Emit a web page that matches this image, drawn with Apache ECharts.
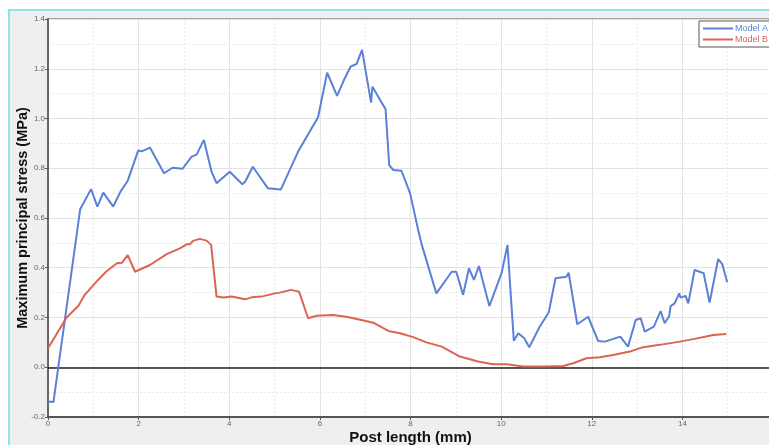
<!DOCTYPE html>
<html><head><meta charset="utf-8">
<script src="https://cdn.jsdelivr.net/npm/echarts@6/dist/echarts.min.js"></script>
<style>html,body{margin:0;padding:0;background:#fff}#c{width:769px;height:445px}</style>
</head><body><div id="c"></div>
<script>
const seriesNames = ['Model A', 'Model B'];
const xTicks = [0, 2, 4, 6, 8, 10, 12, 14, 16];
const yTicks = [-0.2, 0, 0.2, 0.4, 0.6, 0.8, 1.0, 1.2, 1.4];
const modelA_x = [0,0.12,0.71,0.95,1.09,1.22,1.44,1.60,1.76,1.99,2.07,2.25,2.40,2.56,2.75,2.97,3.17,3.28,3.44,3.61,3.72,4.01,4.29,4.35,4.52,4.85,5.14,5.52,5.96,6.16,6.38,6.55,6.68,6.81,6.93,7.13,7.16,7.45,7.53,7.62,7.80,7.99,8.17,8.24,8.57,8.91,9.01,9.16,9.29,9.40,9.51,9.74,10.01,10.14,10.28,10.38,10.51,10.62,10.85,11.05,11.2,11.24,11.44,11.49,11.68,11.92,12.14,12.29,12.63,12.80,12.97,13.08,13.17,13.37,13.52,13.61,13.71,13.74,13.83,13.93,13.96,14.07,14.13,14.27,14.47,14.6,14.79,14.88,14.99];
const modelA_y = [-0.138,-0.14,0.635,0.716,0.646,0.702,0.646,0.706,0.75,0.871,0.868,0.883,0.833,0.78,0.802,0.798,0.847,0.855,0.914,0.786,0.74,0.786,0.736,0.746,0.806,0.72,0.715,0.867,1.005,1.184,1.091,1.162,1.209,1.219,1.276,1.064,1.128,1.037,0.813,0.793,0.79,0.70,0.552,0.498,0.297,0.384,0.384,0.291,0.398,0.351,0.407,0.246,0.378,0.492,0.107,0.137,0.117,0.08,0.163,0.22,0.358,0.364,0.364,0.38,0.173,0.203,0.106,0.103,0.123,0.083,0.19,0.197,0.143,0.163,0.226,0.177,0.206,0.246,0.257,0.297,0.28,0.287,0.257,0.391,0.378,0.26,0.435,0.415,0.342];
const modelB_x = [0,0.22,0.41,0.67,0.81,1.07,1.28,1.52,1.63,1.76,1.92,2.25,2.62,2.91,3.06,3.13,3.2,3.35,3.5,3.6,3.72,3.87,4.05,4.35,4.49,4.71,5.01,5.12,5.36,5.54,5.74,5.93,6.29,6.58,6.84,7.18,7.51,7.77,8.06,8.35,8.69,9.09,9.49,9.82,10.12,10.49,10.93,11.37,11.59,11.88,12.18,12.47,12.84,13.1,13.5,13.94,14.24,14.68,14.97];
const modelB_y = [0.076,0.143,0.2,0.246,0.291,0.344,0.384,0.418,0.42,0.451,0.384,0.411,0.455,0.478,0.494,0.494,0.508,0.516,0.509,0.492,0.284,0.28,0.284,0.273,0.281,0.284,0.297,0.30,0.311,0.304,0.197,0.207,0.21,0.203,0.193,0.179,0.146,0.137,0.121,0.10,0.083,0.043,0.023,0.012,0.012,0.003,0.003,0.005,0.016,0.036,0.04,0.049,0.063,0.079,0.09,0.103,0.113,0.13,0.134];
const xTitle = 'Post length (mm)';
const yTitle = 'Maximum principal stress (MPa)';

const colA = '#5b80d8', colB = '#dc6454';
const zip = (xs, ys) => xs.map((x, i) => [x, ys[i]]);

const chart = echarts.init(document.getElementById('c'), null, {renderer: 'canvas'});
chart.setOption({
  animation: false,
  backgroundColor: '#ffffff',
  graphic: [{
    type: 'rect', z: -10, silent: true,
    shape: {x: 9, y: 10, width: 780, height: 460},
    style: {fill: '#efefef', stroke: '#8fe6e6', lineWidth: 2}
  }],
  grid: {left: 48, top: 19, right: -4, bottom: 28, outerBoundsMode: 'none', containLabel: false,
    show: true, backgroundColor: '#ffffff', borderColor: '#555', borderWidth: 1},
  legend: {
    orient: 'vertical', left: 699, top: 21, padding: [3, 4, 3, 4], itemGap: 2,
    itemWidth: 30, itemHeight: 2, icon: 'rect',
    backgroundColor: '#fff', borderColor: '#555', borderWidth: 1,
    textStyle: {fontSize: 9, fontFamily: 'Liberation Sans, Arial, sans-serif', padding: [0, 0, 0, -3]},
    data: [
      {name: seriesNames[0], textStyle: {color: colA}},
      {name: seriesNames[1], textStyle: {color: colB}}
    ]
  },
  xAxis: {
    type: 'value', min: xTicks[0], max: xTicks[xTicks.length - 1], interval: 2,
    name: xTitle, nameLocation: 'middle', nameGap: 13, nameMoveOverlap: false,
    nameTextStyle: {fontSize: 15, fontWeight: 'bold', color: '#111', fontFamily: 'Liberation Sans, Arial, sans-serif'},
    axisLine: {show: true, onZero: false, lineStyle: {color: '#555', width: 2}},
    axisTick: {show: true, length: 3, lineStyle: {color: '#555'}},
    axisLabel: {fontSize: 8, color: '#666', margin: 3, fontFamily: 'Liberation Sans, Arial, sans-serif'},
    splitLine: {show: true, lineStyle: {color: '#e2e2e2', width: 1}},
    minorTick: {show: false, splitNumber: 2},
    minorSplitLine: {show: true, lineStyle: {color: '#e9e9e9', type: [2, 2]}}
  },
  yAxis: {
    type: 'value', min: yTicks[0], max: yTicks[yTicks.length - 1], interval: 0.2,
    name: yTitle, nameLocation: 'middle', nameGap: 18, nameRotate: 90, nameMoveOverlap: false,
    nameTextStyle: {fontSize: 14.5, fontWeight: 'bold', color: '#111', fontFamily: 'Liberation Sans, Arial, sans-serif'},
    axisLine: {show: true, onZero: false, lineStyle: {color: '#666', width: 2}},
    axisTick: {show: true, length: 3, lineStyle: {color: '#555'}},
    axisLabel: {fontSize: 8, color: '#666', margin: 3, fontFamily: 'Liberation Sans, Arial, sans-serif',
      formatter: v => v.toFixed(1)},
    splitLine: {show: true, lineStyle: {color: '#e2e2e2', width: 1}},
    minorTick: {show: false, splitNumber: 2},
    minorSplitLine: {show: true, lineStyle: {color: '#e9e9e9', type: [2, 2]}}
  },
  series: [
    {name: seriesNames[0], type: 'line', data: zip(modelA_x, modelA_y), showSymbol: false, symbol: 'none',
      lineStyle: {color: colA, width: 2}, itemStyle: {color: colA}, z: 3,
      markLine: {silent: true, symbol: 'none', label: {show: false},
        lineStyle: {color: '#222', width: 1.5, type: 'solid'}, data: [{yAxis: 0}], z: 1}},
    {name: seriesNames[1], type: 'line', data: zip(modelB_x, modelB_y), showSymbol: false, symbol: 'none',
      lineStyle: {color: colB, width: 2}, itemStyle: {color: colB}, z: 3}
  ]
});
</script></body></html>
